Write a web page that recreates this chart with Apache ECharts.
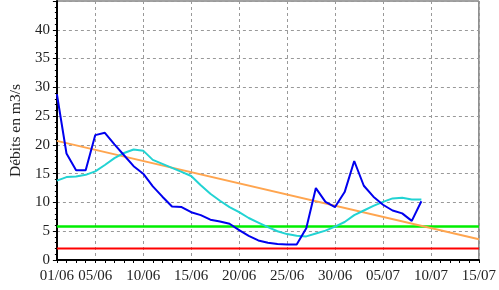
<!DOCTYPE html>
<html>
<head>
<meta charset="utf-8">
<script src="https://cdn.jsdelivr.net/npm/echarts@6/dist/echarts.min.js"></script>
<style>html,body{margin:0;padding:0;background:#fff;}#c{width:499px;height:290px;}</style>
</head>
<body>
<div id="c"></div>
<script>
var categories = ["01/06","02/06","03/06","04/06","05/06","06/06","07/06","08/06","09/06","10/06",
"11/06","12/06","13/06","14/06","15/06","16/06","17/06","18/06","19/06","20/06",
"21/06","22/06","23/06","24/06","25/06","26/06","27/06","28/06","29/06","30/06",
"01/07","02/07","03/07","04/07","05/07","06/07","07/07","08/07","09/07","10/07",
"11/07","12/07","13/07","14/07","15/07"];
var tickLabels = ["01/06","05/06","10/06","15/06","20/06","25/06","30/06","05/07","10/07","15/07"];
var debit = [28.8,18.5,15.6,15.6,21.7,22.1,20.1,18.2,16.3,15.0,
12.8,11.0,9.3,9.2,8.3,7.8,7.0,6.7,6.3,5.2,
4.2,3.4,3.0,2.8,2.7,2.7,5.5,12.5,10.1,9.2,
11.8,17.2,12.9,11.0,9.6,8.6,8.1,6.8,10.2];
var moyenne = [13.8,14.4,14.5,14.8,15.4,16.5,17.7,18.6,19.2,19.0,
17.4,16.7,16.0,15.3,14.6,13.0,11.5,10.3,9.2,8.3,
7.3,6.5,5.7,5.0,4.5,4.2,4.1,4.6,5.1,5.8,
6.6,7.8,8.6,9.4,10.1,10.7,10.8,10.5,10.5];
var tendance = [["01/06",20.7],["15/07",3.6]];
var seuilVigilance = [["01/06",5.8],["15/07",5.8]];
var seuilCrise = [["01/06",2.0],["15/07",2.0]];

var chart = echarts.init(document.getElementById('c'), null, {renderer:'canvas'});
function isTick(idx){ return tickLabels.indexOf(categories[idx]) >= 0; }
var font = 'Liberation Serif';
chart.setOption({
  animation:false,
  grid:{left:47,right:17,top:1,bottom:30,show:true,borderColor:'#444',borderWidth:1,backgroundColor:'transparent'},
  xAxis:{
    type:'category', data:categories, boundaryGap:false,
    axisLine:{lineStyle:{color:'#000',width:2}},
    axisTick:{show:true,interval:0,length:3,lineStyle:{color:'#000'}},
    axisLabel:{interval:function(i){return isTick(i);},color:'#222',fontFamily:font,fontSize:15,margin:9},
    splitLine:{show:true,interval:function(i){return isTick(i) && i>0;},lineStyle:{color:'#999',type:[3,3],width:1}}
  },
  yAxis:{
    type:'value', min:0, max:45, interval:5,
    name:'Débits en m3/s', nameLocation:'middle', nameGap:31,
    nameTextStyle:{color:'#222',fontFamily:font,fontSize:15.5},
    axisLine:{show:true,lineStyle:{color:'#000',width:2}},
    axisTick:{show:true,length:4,lineStyle:{color:'#000'}},
    minorTick:{show:true,splitNumber:5,length:2,lineStyle:{color:'#000'}},
    axisLabel:{color:'#222',fontFamily:font,fontSize:15,margin:7,showMaxLabel:false},
    splitLine:{show:true,lineStyle:{color:'#999',type:[3,3],width:1}}
  },
  series:[
    {type:'line',data:seuilCrise,symbol:'none',lineStyle:{color:'#ff0000',width:2},z:2},
    {type:'line',data:seuilVigilance,symbol:'none',lineStyle:{color:'#00ee00',width:2.5},z:2},
    {type:'line',data:tendance,symbol:'none',lineStyle:{color:'#ffa54f',width:2},z:3},
    {type:'line',data:moyenne,symbol:'none',lineStyle:{color:'#22d3d3',width:2},z:4},
    {type:'line',data:debit,symbol:'none',lineStyle:{color:'#0000ee',width:2},z:5}
  ]
});
</script>
</body>
</html>
